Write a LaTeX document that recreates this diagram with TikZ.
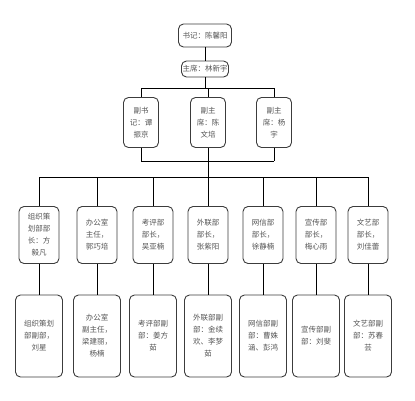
\documentclass[tikz,border=0pt]{standalone}
\usepackage{fontspec}
\setmainfont{Noto Sans CJK SC}
\usepackage{tikz}
\usetikzlibrary{positioning,calc}
\definecolor{boxgray}{RGB}{60,60,60}
\definecolor{txtgray}{RGB}{85,85,85}

\begin{document}
\begin{tikzpicture}[x=1pt, y=-1pt,
    box/.style={rectangle, draw=boxgray, line width=0.9pt, rounded corners=5pt, align=center,
                text=txtgray, inner sep=1pt, font=\fontsize{7.5}{12}\selectfont},
    link/.style={black, line width=0.8pt}
]
    \useasboundingbox (0,0) rectangle (415,400);

    % Top levels
    \node[box, minimum width=53pt, minimum height=23pt] (sec) at (205,35.5) {书记：陈馨阳};
    \node[box, minimum width=38pt, minimum height=16pt] (chair) at (205,69) {主席：林新宇};

    % Vice positions
    \node[box, minimum width=35pt, minimum height=50pt] (v1) at (141,122.5) {副书\\记：谭\\振京};
    \node[box, minimum width=35pt, minimum height=50pt] (v2) at (208,122.5) {副主\\席：陈\\文培};
    \node[box, minimum width=35pt, minimum height=50pt] (v3) at (274,122.5) {副主\\席：杨\\宇};

    % Department heads
    \foreach \n/\x/\t in {1/39/{组织策\\划部部\\长：方\\毅凡}, 2/97/{办公室\\主任，\\郭巧培},
                          3/153/{考评部\\部长，\\吴亚楠}, 4/208/{外联部\\部长，\\张紫阳},
                          5/263/{网信部\\部长，\\徐静楠}, 6/316/{宣传部\\部长，\\梅心雨},
                          7/368/{文艺部\\部长，\\刘佳蕾}} {
        \node[box, minimum width=40pt, minimum height=57pt] (d\n) at (\x,235) {\t};
    }

    % Deputy heads
    \foreach \n/\t in {1/{组织策划\\部副部，\\刘星}, 2/{办公室\\副主任，\\梁建丽，\\杨楠},
                       3/{考评部副\\部：姜方\\茹}, 4/{外联部副\\部：金续\\欢、李梦\\茹},
                       5/{网信部副\\部：曹姝\\涵、彭鸿}, 6/{宣传部副\\部：刘斐},
                       7/{文艺部副\\部：苏春\\芸}} {
        \node[box, minimum width=47pt, minimum height=82pt] (e\n) at (d\n |- 0,336) {\t};
    }

    % Connectors
    \coordinate (j1) at (205,88);
    \coordinate (j2) at (208,161);
    \coordinate (j3) at (208,177);
    \draw[link] (sec) -- (chair);
    \draw[link] (chair) -- (j1);
    \draw[link] (v1.north |- j1) -- (v3.north |- j1);
    \foreach \v in {v1,v2,v3} {
        \draw[link] (\v.north |- j1) -- (\v.north);
        \draw[link] (\v.south) -- (\v.south |- j2);
    }
    \draw[link] (v1.south |- j2) -- (v3.south |- j2);
    \draw[link] (j2) -- (j3);
    \draw[link] (d1.north |- j3) -- (d7.north |- j3);
    \foreach \n in {1,...,7} {
        \draw[link] (d\n.north |- j3) -- (d\n.north);
        \draw[link] (d\n) -- (e\n);
    }
\end{tikzpicture}
\end{document}
